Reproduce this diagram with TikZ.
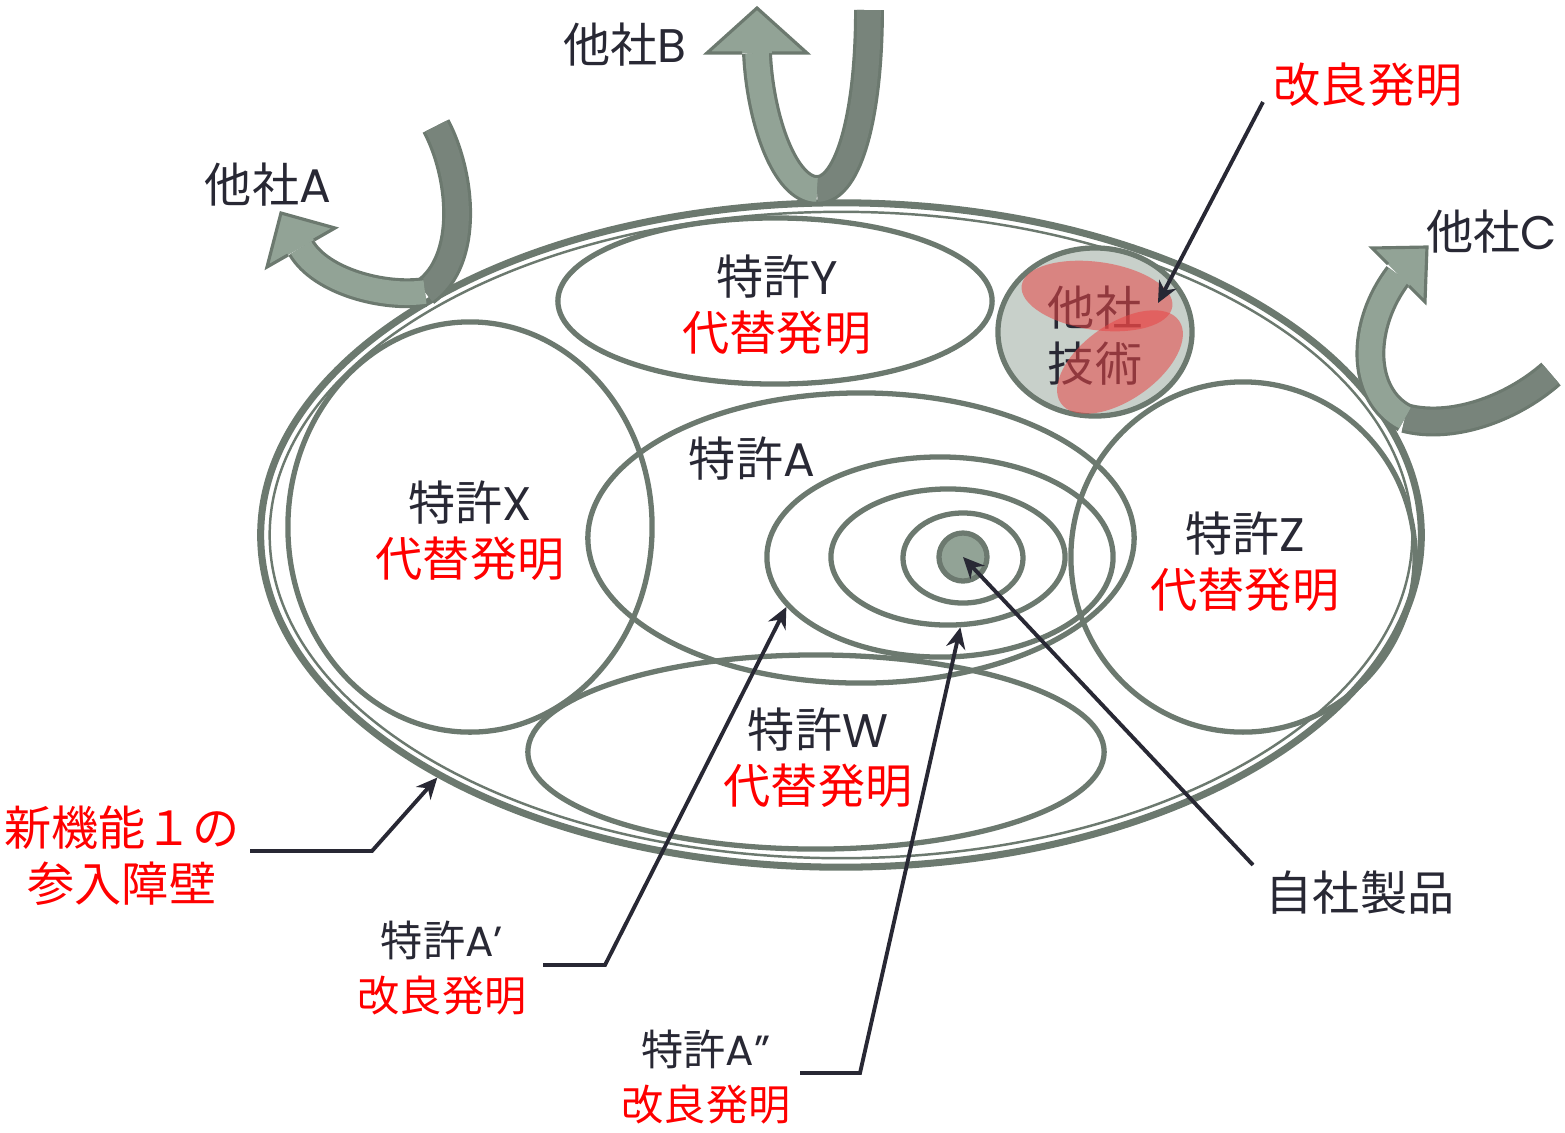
\documentclass[tikz,border=0pt]{standalone}
\usepackage{fontspec}
\setmainfont{Noto Sans CJK JP}
\newfontfamily\latin{Poppins}
\newcommand{\lt}[1]{{\latin #1}}
\usetikzlibrary{shapes.geometric, arrows.meta}

\definecolor{ringgray}{RGB}{108,121,111}
\definecolor{armfront}{RGB}{146,163,150}
\definecolor{armback}{RGB}{120,132,123}
\definecolor{techgray}{RGB}{200,208,202}
\definecolor{ink}{RGB}{40,40,52}
\definecolor{alert}{RGB}{255,0,0}
\definecolor{blob}{RGB}{232,70,70}

\tikzset{
  ring/.style={ellipse, draw=ringgray, line width=1.5pt, inner sep=0pt},
  lbl/.style={font=\fontsize{13.4}{15.9}\selectfont, text=ink, align=center, inner sep=0pt},
  sml/.style={font=\fontsize{12}{15.6}\selectfont, text=ink, align=center, inner sep=0pt},
  callout/.style={draw=ink, line width=1.1pt, -{Stealth[length=6pt, width=5.5pt]}},
  armline/.style={draw=ringgray, line width=8.5pt},
  backarm/.style={draw=armback, line width=6.7pt},
  frontarm/.style={draw=armfront, line width=6.7pt},
  headfill/.style={fill=armfront},
  headline/.style={draw=ringgray, line width=0.9pt, line join=miter},
}

\begin{document}
\begin{tikzpicture}[x=0.01cm, y=-0.01cm]
  \useasboundingbox (0,0) rectangle (1565,1132);

  % Rings
  \node (barrier) [ellipse, draw=ringgray, line width=2pt, inner sep=0pt, minimum width=11.60cm, minimum height=6.64cm] at (841,535) {};
  \node (barrier-in) [ellipse, draw=ringgray, line width=0.7pt, inner sep=0pt, minimum width=11.42cm, minimum height=6.46cm] at (841,535) {};
  \node (px) [ring, minimum width=3.64cm, minimum height=4.10cm] at (470,527) {};
  \node (py) [ring, minimum width=4.34cm, minimum height=1.66cm] at (775,301) {};
  \node (pa) [ring, minimum width=5.46cm, minimum height=2.90cm] at (861,538) {};
  \node (pa1) [ring, minimum width=3.46cm, minimum height=2.00cm] at (940,557) {};
  \node (pa2) [ring, minimum width=2.34cm, minimum height=1.36cm] at (948,557) {};
  \node (pa3) [ring, minimum width=1.20cm, minimum height=0.90cm] at (963,558) {};
  \node (core) [ring, fill=armfront, minimum width=0.48cm, minimum height=0.48cm] at (963,557) {};
  \node (pz) [ring, minimum width=3.44cm, minimum height=3.50cm] at (1243,557) {};
  \node (pw) [ring, minimum width=5.76cm, minimum height=1.94cm] at (816,752) {};
  \node (tech) [ring, fill=techgray, minimum width=1.94cm, minimum height=1.68cm] at (1095,332) {};

  % Arrows out to other companies
  \draw[armline] (436,126) .. controls (462,175) and (470,260) .. (425,292);
  \draw[backarm] (436,126) .. controls (462,175) and (470,260) .. (425,292);
  \draw[armline] (425,292) .. controls (385,298) and (321,282) .. (301,247.5);
  \draw[frontarm] (425,292) .. controls (385,298) and (321,282) .. (301,247.5);
  \fill[headfill] (267,267) -- (281,213) -- (335,228) -- cycle;
  \draw[headline] (288,255) -- (267,267) -- (281,213) -- (335,228) -- (314,240);

  \draw[armline] (869,10) .. controls (869,110) and (850,190) .. (817,190);
  \draw[backarm] (869,10) .. controls (869,110) and (850,190) .. (817,190);
  \draw[armline] (817,190) .. controls (785,190) and (760,120) .. (757,53);
  \draw[frontarm] (817,190) .. controls (785,190) and (760,120) .. (757,53);
  \fill[headfill] (707,53) -- (757,8) -- (807,53) -- cycle;
  \draw[headline] (742,53) -- (707,53) -- (757,8) -- (807,53) -- (772,53);

  \draw[armline] (1551,374) .. controls (1510,410) and (1450,430) .. (1405,418);
  \draw[backarm] (1551,374) .. controls (1510,410) and (1450,430) .. (1405,418);
  \draw[armline] (1405,418) .. controls (1360,395) and (1360,325) .. (1398.5,275);
  \draw[frontarm] (1405,418) .. controls (1360,395) and (1360,325) .. (1398.5,275);
  \fill[headfill] (1372,248) -- (1427,247) -- (1425,302) -- cycle;
  \draw[headline] (1388,264) -- (1372,248) -- (1427,247) -- (1425,302) -- (1409,286);

  % Labels
  \node (tashaA) [lbl] at (268,185) {他社\lt{A}};
  \node (tashaB) [lbl] at (625,45) {他社\lt{B}};
  \node (tashaC) [lbl] at (1492,232) {他社\lt{C}};
  \node (kairyo) [lbl, text=alert] at (1368,85) {改良発明};
  \node (ty) [lbl] at (777,305) {特許\lt{Y}\\\textcolor{alert}{代替発明}};
  \node (tx) [lbl] at (470,531) {特許\lt{X}\\\textcolor{alert}{代替発明}};
  \node (tz) [lbl] at (1245,562) {特許\lt{Z}\\\textcolor{alert}{代替発明}};
  \node (tw) [lbl] at (818,758) {特許\lt{W}\\\textcolor{alert}{代替発明}};
  \node (ta) [lbl] at (752,459) {特許\lt{A}};
  \node (techtxt) [lbl] at (1095,336) {他社\\技術};
  \node (entry) [lbl, text=alert] at (122,856) {新機能１の\\参入障壁};
  \node (ta1) [sml] at (442,968) {特許\lt{A’}\\\textcolor{alert}{改良発明}};
  \node (ta2) [sml] at (706,1077) {特許\lt{A”}\\\textcolor{alert}{改良発明}};
  \node (jisha) [lbl] at (1360,893) {自社製品};

  % Red overlay on other-company tech
  \node (blob1) [ellipse, fill=blob, fill opacity=0.55, inner sep=0pt, minimum width=1.52cm, minimum height=0.68cm, rotate=-8] at (1097,296) {};
  \node (blob2) [ellipse, fill=blob, fill opacity=0.55, inner sep=0pt, minimum width=1.44cm, minimum height=0.76cm, rotate=35] at (1120,362) {};

  % Callouts
  \coordinate (kairyo-a) at (1263,102);
  \coordinate (kairyo-b) at (1158,303);
  \coordinate (entry-a) at (250,851);
  \coordinate (entry-k) at (372,851);
  \coordinate (ta1-a) at (543,965);
  \coordinate (ta1-k) at (605,965);
  \coordinate (ta2-a) at (800,1073);
  \coordinate (ta2-k) at (860,1073);
  \coordinate (jisha-a) at (1253,865);
  \draw[callout] (kairyo-a) -- (kairyo-b);
  \draw[callout] (entry-a) -- (entry-k) -- (barrier.211);
  \draw[callout] (ta1-a) -- (ta1-k) -- (pa1.198);
  \draw[callout] (ta2-a) -- (ta2-k) -- (pa2.280);
  \draw[callout] (jisha-a) -- (core.center);
\end{tikzpicture}
\end{document}
